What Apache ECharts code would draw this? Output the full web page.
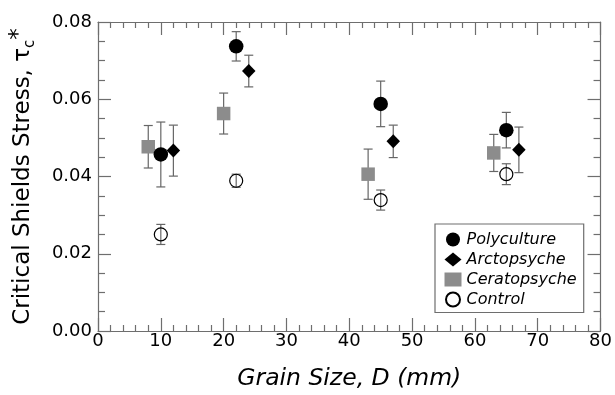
<!DOCTYPE html>
<html>
<head>
<meta charset="utf-8">
<script src="https://cdn.jsdelivr.net/npm/echarts@6/dist/echarts.min.js"></script>
<style>
  html, body { margin: 0; padding: 0; background: #fff; }
  #chart { width: 615px; height: 395px; }
</style>
</head>
<body>
<div id="chart"></div>
<script>
// Critical Shields stress by grain size for each treatment (mean ± error)
const seriesNames = ['Polyculture', 'Arctopsyche', 'Ceratopsyche', 'Control'];

const polyX = [10, 22, 45, 65];
const polyY = [0.0457, 0.0737, 0.0588, 0.0520];
const polyErr = [0.0084, 0.0038, 0.0059, 0.0046];

const arctoX = [12, 24, 47, 67];
const arctoY = [0.0467, 0.0673, 0.0491, 0.0469];
const arctoErr = [0.0066, 0.0041, 0.0042, 0.0059];

const ceratoX = [8, 20, 43, 63];
const ceratoY = [0.0477, 0.0563, 0.0406, 0.0461];
const ceratoErr = [0.0055, 0.0053, 0.0065, 0.0048];

const controlX = [10, 22, 45, 65];
const controlY = [0.0250, 0.0389, 0.0339, 0.0406];
const controlErr = [0.0026, 0.0017, 0.0026, 0.0027];

const FONT = 'DejaVu Sans';
const AXIS_GREY = '#6e6e6e';
const BAR_GREY = '#666666';

function points(xs, ys) {
  return xs.map((x, i) => [x, ys[i]]);
}
function ranges(xs, ys, es) {
  return xs.map((x, i) => [x, ys[i] - es[i], ys[i] + es[i]]);
}

function errorBars(name, xs, ys, es) {
  return {
    type: 'custom',
    name: name + ' error',
    xAxisIndex: 0,
    yAxisIndex: 0,
    z: 1,
    silent: true,
    data: ranges(xs, ys, es),
    encode: { x: 0, y: [1, 2] },
    renderItem: function (params, api) {
      const x = api.value(0);
      const lo = api.coord([x, api.value(1)]);
      const hi = api.coord([x, api.value(2)]);
      const cap = 4.5;
      const style = { stroke: BAR_GREY, lineWidth: 1.2 };
      return {
        type: 'group',
        children: [
          { type: 'line', shape: { x1: lo[0], y1: lo[1], x2: hi[0], y2: hi[1] }, style: style },
          { type: 'line', shape: { x1: hi[0] - cap, y1: hi[1], x2: hi[0] + cap, y2: hi[1] }, style: style },
          { type: 'line', shape: { x1: lo[0] - cap, y1: lo[1], x2: lo[0] + cap, y2: lo[1] }, style: style }
        ]
      };
    }
  };
}

function axisCommon(extra) {
  return Object.assign({
    axisLine: { show: true, onZero: false, lineStyle: { color: AXIS_GREY, width: 1.2 } },
    axisTick: { show: true, inside: true, length: 13, lineStyle: { color: AXIS_GREY, width: 1.2 } },
    splitLine: { show: false }
  }, extra);
}

const chart = echarts.init(document.getElementById('chart'), null, { renderer: 'canvas' });

chart.setOption({
  animation: false,
  backgroundColor: '#ffffff',
  grid: { left: 96, right: 12.5, top: 22, bottom: 58, containLabel: false },
  legend: {
    data: seriesNames,
    orient: 'vertical',
    left: 435,
    top: 224,
    padding: [7.5, 7, 5, 9.5],
    itemWidth: 17,
    itemHeight: 14,
    itemGap: 4,
    backgroundColor: '#ffffff',
    borderColor: AXIS_GREY,
    borderWidth: 1.2,
    textStyle: { fontFamily: FONT, fontStyle: 'italic', fontSize: 16, color: '#000' }
  },
  xAxis: [
    axisCommon({
      type: 'value', position: 'bottom', min: 0, max: 80, interval: 10,
      minorTick: { show: true, splitNumber: 5, length: 6, lineStyle: { color: AXIS_GREY, width: 1.2 } },
      axisLabel: { show: true, margin: 1, color: '#000', fontFamily: FONT, fontSize: 18 },
      name: 'Grain Size, D (mm)',
      nameLocation: 'middle',
      nameGap: 36,
      nameTextStyle: { fontFamily: FONT, fontStyle: 'italic', fontSize: 23.5, color: '#000' }
    }),
    axisCommon({
      type: 'value', position: 'top', min: 0, max: 80, interval: 10,
      minorTick: { show: true, splitNumber: 5, length: 6, lineStyle: { color: AXIS_GREY, width: 1.2 } },
      axisLabel: { show: false }
    })
  ],
  yAxis: [
    axisCommon({
      type: 'value', position: 'left', min: 0, max: 0.08, interval: 0.02,
      minorTick: { show: true, splitNumber: 4, length: 7, lineStyle: { color: AXIS_GREY, width: 1.2 } },
      axisLabel: {
        show: true, margin: 6, color: '#000', fontFamily: FONT, fontSize: 18,
        formatter: v => v.toFixed(2)
      },
      name: '{m|Critical Shields Stress, τ}{sub|c}{sup|*}',
      nameLocation: 'middle',
      nameGap: 60,
      nameTextStyle: {
        color: '#000',
        rich: {
          m: { fontFamily: FONT, fontSize: 23, color: '#000', lineHeight: 30, verticalAlign: 'middle' },
          sub: { fontFamily: FONT, fontSize: 15, color: '#000', lineHeight: 15, verticalAlign: 'bottom' },
          sup: { fontFamily: FONT, fontSize: 23, color: '#000', lineHeight: 22, verticalAlign: 'top' }
        }
      }
    }),
    axisCommon({
      type: 'value', position: 'right', min: 0, max: 0.08, interval: 0.02,
      minorTick: { show: true, splitNumber: 4, length: 7, lineStyle: { color: AXIS_GREY, width: 1.2 } },
      axisLabel: { show: false }
    })
  ],
  series: [
    errorBars('Ceratopsyche', ceratoX, ceratoY, ceratoErr),
    errorBars('Control', controlX, controlY, controlErr),
    errorBars('Polyculture', polyX, polyY, polyErr),
    errorBars('Arctopsyche', arctoX, arctoY, arctoErr),
    {
      type: 'scatter', name: 'Ceratopsyche', z: 3,
      data: points(ceratoX, ceratoY),
      symbol: 'rect', symbolSize: 13.5,
      itemStyle: { color: '#8c8c8c', opacity: 1 }
    },
    {
      type: 'scatter', name: 'Control', z: 3,
      data: points(controlX, controlY),
      symbol: 'circle', symbolSize: 13,
      itemStyle: { color: 'rgba(255,255,255,0)', borderColor: '#000', borderWidth: 1.2, opacity: 1 }
    },
    {
      type: 'scatter', name: 'Polyculture', z: 3,
      data: points(polyX, polyY),
      symbol: 'circle', symbolSize: 14.5,
      itemStyle: { color: '#000', opacity: 1 }
    },
    {
      type: 'scatter', name: 'Arctopsyche', z: 3,
      data: points(arctoX, arctoY),
      symbol: 'diamond', symbolSize: [13.5, 14],
      itemStyle: { color: '#000', opacity: 1 }
    }
  ]
});
</script>
</body>
</html>
